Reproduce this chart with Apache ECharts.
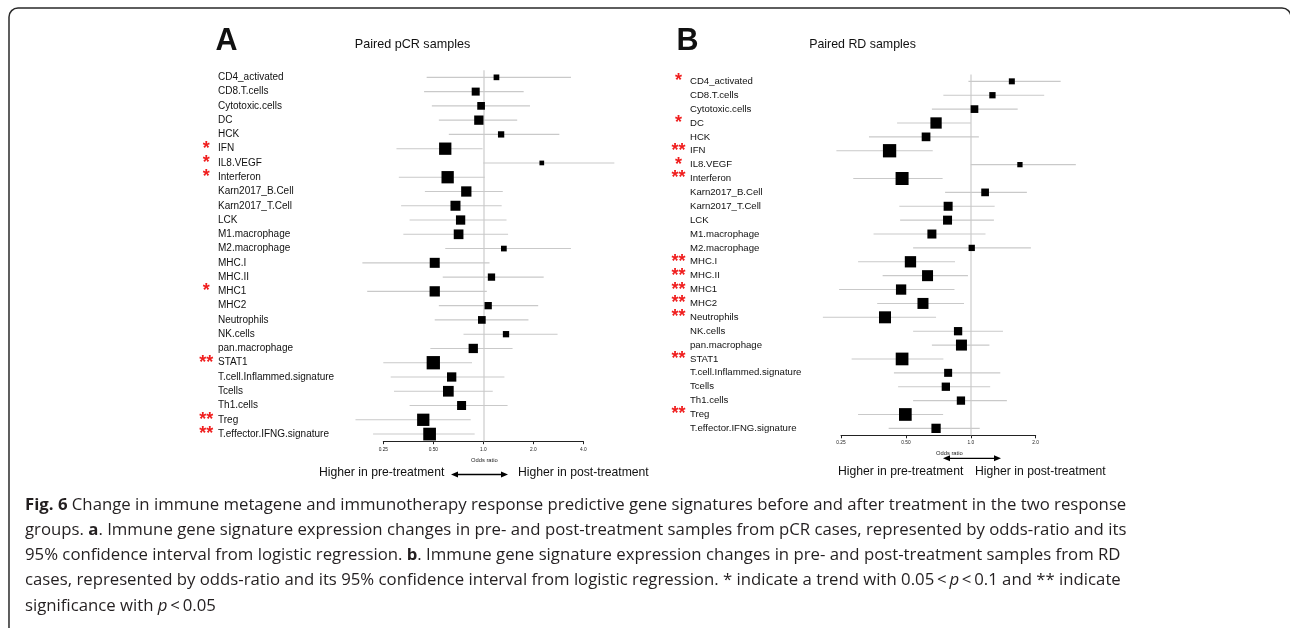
<!DOCTYPE html>
<html>
<head>
<meta charset="utf-8">
<script src="https://cdn.jsdelivr.net/npm/echarts@6/dist/echarts.min.js"></script>
<style>
html,body{margin:0;padding:0;background:#fff;}
#chart{width:1290px;height:628px;}
</style>
</head>
<body>
<div id="chart"></div>
<script>
// ---------------- data ----------------
const signatures = ['CD4_activated','CD8.T.cells','Cytotoxic.cells','DC','HCK','IFN','IL8.VEGF','Interferon',
  'Karn2017_B.Cell','Karn2017_T.Cell','LCK','M1.macrophage','M2.macrophage','MHC.I','MHC.II','MHC1','MHC2',
  'Neutrophils','NK.cells','pan.macrophage','STAT1','T.cell.Inflammed.signature','Tcells','Th1.cells','Treg',
  'T.effector.IFNG.signature'];

// Panel A: paired pCR samples (odds ratio, 95% CI, relative box weight, significance)
const orA    = [1.20,0.90,0.97,0.94,1.28,0.59,2.25,0.61,0.79,0.68,0.73,0.71,1.33,0.51,1.12,0.51,1.07,0.98,1.37,0.87,0.50,0.645,0.616,0.74,0.435,0.475];
const lowA   = [0.456,0.44,0.49,0.54,0.62,0.30,1.00,0.31,0.445,0.32,0.36,0.33,0.59,0.187,0.57,0.20,0.54,0.51,0.76,0.48,0.25,0.277,0.29,0.36,0.17,0.217];
const highA  = [3.37,1.75,1.91,1.60,2.87,0.99,6.15,1.02,1.31,1.29,1.38,1.41,3.37,1.09,2.31,1.05,2.14,1.87,2.80,1.50,0.855,1.34,1.14,1.40,0.84,0.887];
const weightA= [0.57,0.80,0.77,0.93,0.63,1.23,0.47,1.23,1.03,1.00,0.93,0.97,0.57,1.00,0.73,1.03,0.73,0.77,0.63,0.93,1.33,0.93,1.07,0.90,1.23,1.27];
const sigA   = ['','','','','','*','*','*','','','','','','','','*','','','','','**','','','','**','**'];

// Panel B: paired RD samples
const orB    = [1.55,1.26,1.04,0.69,0.62,0.42,1.69,0.48,1.165,0.785,0.78,0.66,1.01,0.525,0.63,0.475,0.60,0.40,0.873,0.905,0.48,0.785,0.766,0.90,0.497,0.69];
const lowB   = [0.975,0.746,0.66,0.455,0.337,0.238,1.00,0.285,0.76,0.466,0.47,0.354,0.54,0.30,0.39,0.245,0.368,0.206,0.54,0.66,0.28,0.44,0.46,0.54,0.30,0.416];
const highB  = [2.61,2.19,1.65,1.00,1.09,0.666,3.07,0.74,1.82,1.29,1.28,1.17,1.90,0.845,0.97,0.84,0.93,0.69,1.41,1.22,0.746,1.37,1.23,1.47,0.744,1.10];
const weightB= [0.60,0.63,0.77,1.13,0.87,1.33,0.53,1.30,0.77,0.90,0.90,0.90,0.63,1.13,1.10,1.03,1.10,1.20,0.83,1.10,1.27,0.80,0.83,0.83,1.27,0.93];
const sigB   = ['*','','','*','','**','*','**','','','','','','**','**','**','**','**','','','**','','','','**',''];

const tickLabelsA = ['0.25','0.50','1.0','2.0','4.0'];
const tickLabelsB = ['0.25','0.50','1.0','2.0'];
const axisRangeA = [0.25, 4];
const axisRangeB = [0.25, 2];

const titleA = 'Paired pCR samples';
const titleB = 'Paired RD samples';
const captionLines = [
  '{b|Fig. 6} Change in immune metagene and immunotherapy response predictive gene signatures before and after treatment in the two response',
  'groups. {b|a}. Immune gene signature expression changes in pre- and post-treatment samples from pCR cases, represented by odds-ratio and its',
  '95% confidence interval from logistic regression. {b|b}. Immune gene signature expression changes in pre- and post-treatment samples from RD',
  'cases, represented by odds-ratio and its 95% confidence interval from logistic regression. * indicate a trend with 0.05\u2009<\u2009{i|p}\u2009<\u20090.1 and ** indicate',
  'significance with {i|p}\u2009<\u20090.05'
];

// ---------------- rendering ----------------
const LABEL_FONT = 'Liberation Sans';
const CI_COLOR = '#c9c9c9';
const BOX_SCALE = 10;

function rows(or, lo, hi, w) {
  return or.map((v, i) => [v, i, lo[i], hi[i], w[i]]);
}

function renderForest(params, api) {
  const yi = api.value(1);
  const p = api.coord([api.value(0), yi]);
  const l = api.coord([api.value(2), yi]);
  const h = api.coord([api.value(3), yi]);
  const s = api.value(4) * BOX_SCALE;
  return {
    type: 'group',
    children: [
      {type: 'line', z2: 1, shape: {x1: l[0], y1: l[1], x2: h[0], y2: h[1]}, style: {stroke: CI_COLOR, lineWidth: 1.1}},
      {type: 'rect', z2: 2, shape: {x: p[0] - s / 2, y: p[1] - s / 2, width: s, height: s}, style: {fill: '#000'}}
    ]
  };
}

function xAxisFor(gridIndex, range, ticks, nameGap, namePad, labelMargin) {
  return {
    gridIndex, type: 'log', logBase: 2, min: range[0], max: range[1],
    axisLine: {show: true, lineStyle: {color: '#222', width: 1}},
    axisTick: {show: true, length: 3, lineStyle: {color: '#222', width: 1}},
    splitLine: {show: false},
    axisLabel: {fontSize: 4.8, fontFamily: LABEL_FONT, color: '#222', margin: labelMargin,
      formatter: (v, i) => ticks[i] !== undefined ? ticks[i] : ''},
    name: 'Odds ratio', nameLocation: 'middle', nameGap,
    nameTextStyle: {fontSize: 5.8, fontFamily: LABEL_FONT, color: '#222', padding: namePad}
  };
}

function nameAxis(gridIndex, margin, fontSize) {
  return {
    gridIndex, type: 'category', position: 'left', inverse: true, data: signatures,
    axisLine: {show: false}, axisTick: {show: false}, splitLine: {show: false},
    axisLabel: {interval: 0, align: 'left', margin, fontSize, fontFamily: LABEL_FONT, color: '#111'}
  };
}

function starAxis(gridIndex, margin, sig) {
  return {
    gridIndex, type: 'category', position: 'left', offset: 0, inverse: true, data: signatures,
    axisLine: {show: false}, axisTick: {show: false}, splitLine: {show: false},
    axisLabel: {interval: 0, align: 'center', margin, fontSize: 18, fontWeight: 'bold', fontFamily: LABEL_FONT,
      color: '#f01e1e', padding: [15, 0, 0, 0], formatter: (v, i) => sig[i]}
  };
}

function refLine(xi, yi) {
  return {
    type: 'line', xAxisIndex: xi, yAxisIndex: yi, data: [], z: 1, silent: true,
    markLine: {silent: true, z: 1, symbol: ['none', 'none'], label: {show: false},
      lineStyle: {color: '#d6d6d6', width: 1.5, type: 'solid'}, data: [{xAxis: 1}]}
  };
}

function txt(x, y, text, font, align, extra) {
  return Object.assign({
    type: 'text', x, y, silent: true,
    style: {text, font, fill: '#111', textAlign: align || 'left', align: align || 'left',
      textVerticalAlign: 'middle', verticalAlign: 'middle'}
  }, extra || {});
}

function arrow(x1, x2, y) {
  return {
    type: 'group', silent: true,
    children: [
      {type: 'line', shape: {x1: x1 + 4, y1: y, x2: x2 - 4, y2: y}, style: {stroke: '#000', lineWidth: 1.3}},
      {type: 'polygon', shape: {points: [[x1, y], [x1 + 7, y - 3], [x1 + 7, y + 3]]}, style: {fill: '#000'}},
      {type: 'polygon', shape: {points: [[x2, y], [x2 - 7, y - 3], [x2 - 7, y + 3]]}, style: {fill: '#000'}}
    ]
  };
}

const capFont = 'Open Sans';
const capSize = 16.75;
const capRich = {
  b: {fontFamily: capFont, fontSize: capSize, fontWeight: 'bold', fill: '#231f20'},
  i: {fontFamily: capFont, fontSize: capSize, fontStyle: 'italic', fill: '#231f20'}
};
const captionGraphics = captionLines.map((line, k) => ({
  type: 'text', x: 25, y: 505 + k * 25.2, silent: true,
  style: {text: line, font: capSize + 'px "' + capFont + '"', fill: '#231f20',
    textAlign: 'left', align: 'left', textVerticalAlign: 'middle', verticalAlign: 'middle', rich: capRich}
}));

const chart = echarts.init(document.getElementById('chart'), null, {renderer: 'canvas'});
chart.setOption({
  animation: false,
  backgroundColor: '#fff',
  grid: [
    {left: 383.3, top: 70.2, width: 200, height: 371, containLabel: false},
    {left: 841, top: 74.4, width: 194.7, height: 360.9, containLabel: false}
  ],
  xAxis: [
    xAxisFor(0, axisRangeA, tickLabelsA, 12.5, [0, 0, 0, 2], 6),
    xAxisFor(1, axisRangeB, tickLabelsB, 10.5, [0, 0, 0, 22], 5)
  ],
  yAxis: [
    nameAxis(0, 165.3, 10),
    starAxis(0, 177, sigA),
    nameAxis(1, 151, 9.6),
    starAxis(1, 162.5, sigB)
  ],
  series: [
    refLine(0, 0),
    {type: 'custom', xAxisIndex: 0, yAxisIndex: 0, clip: false, z: 2, silent: true,
      renderItem: renderForest, encode: {x: [0, 2, 3], y: 1}, data: rows(orA, lowA, highA, weightA)},
    refLine(1, 2),
    {type: 'custom', xAxisIndex: 1, yAxisIndex: 2, clip: false, z: 2, silent: true,
      renderItem: renderForest, encode: {x: [0, 2, 3], y: 1}, data: rows(orB, lowB, highB, weightB)}
  ],
  graphic: [
    {type: 'rect', silent: true, shape: {x: 9, y: 8, width: 1282, height: 700, r: 9},
      style: {fill: 'none', stroke: '#2a2a2a', lineWidth: 1.5}},
    txt(215.5, 41.5, 'A', 'bold 30.5px "' + LABEL_FONT + '"'),
    txt(676.5, 41.5, 'B', 'bold 30.5px "' + LABEL_FONT + '"'),
    txt(412.5, 45, titleA, '12.6px "' + LABEL_FONT + '"', 'center'),
    txt(862.5, 45, titleB, '12.4px "' + LABEL_FONT + '"', 'center'),
    txt(319, 472.3, 'Higher in pre-treatment', '12.2px "' + LABEL_FONT + '"'),
    txt(518, 472.3, 'Higher in post-treatment', '12.2px "' + LABEL_FONT + '"'),
    arrow(451, 508, 474.5),
    txt(838, 471.7, 'Higher in pre-treatment', '12.2px "' + LABEL_FONT + '"'),
    txt(975, 471.7, 'Higher in post-treatment', '12.2px "' + LABEL_FONT + '"'),
    arrow(943, 1001, 458.3)
  ].concat(captionGraphics)
});
</script>
</body>
</html>
